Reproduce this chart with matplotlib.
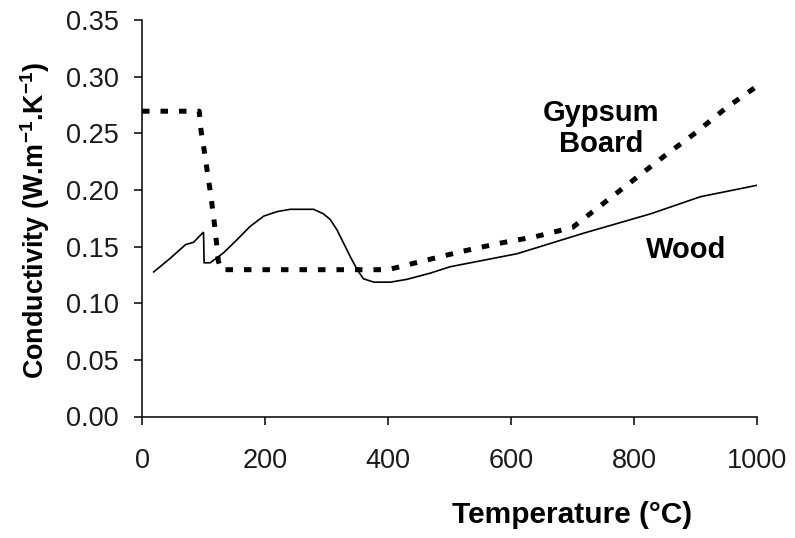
import matplotlib
matplotlib.use("Agg")
import matplotlib.pyplot as plt

# ---- data ----
gypsum_T = [0, 93, 96, 101, 107, 112, 119, 124, 128, 400, 460, 520, 580, 640, 700,
            750, 800, 850, 900, 950, 1000]
gypsum_k = [0.2695, 0.2695, 0.2524, 0.2353, 0.2131, 0.1950, 0.1648, 0.1377, 0.1296,
            0.1296, 0.1377, 0.1457, 0.1528, 0.1588, 0.1669, 0.1880, 0.2091, 0.2302,
            0.2504, 0.2725, 0.2916]

wood_T = [19, 46, 71, 84, 100, 101, 111, 133, 154, 176, 198, 220, 241, 279, 295, 306,
          317, 328, 339, 350, 360, 377, 404, 431, 469, 501, 610, 718, 827, 908, 1000]
wood_k = [0.1276, 0.1397, 0.1518, 0.1538, 0.1628, 0.1357, 0.1357, 0.1447, 0.1558,
          0.1679, 0.1769, 0.1809, 0.1829, 0.1829, 0.1789, 0.1739, 0.1648, 0.1528,
          0.1407, 0.1296, 0.1216, 0.1186, 0.1186, 0.1211, 0.1266, 0.1322, 0.1437,
          0.1618, 0.1789, 0.1940, 0.2041]

x_ticks = [0, 200, 400, 600, 800, 1000]
y_ticks = [0.00, 0.05, 0.10, 0.15, 0.20, 0.25, 0.30, 0.35]
y_ticklabels = ["0.00", "0.05", "0.10", "0.15", "0.20", "0.25", "0.30", "0.35"]

plt.rcParams['font.family'] = ['Liberation Sans', 'DejaVu Sans']
plt.rcParams['mathtext.fontset'] = 'custom'
plt.rcParams['mathtext.rm'] = 'Liberation Sans:bold'
plt.rcParams['mathtext.bf'] = 'Liberation Sans:bold'
plt.rcParams['mathtext.default'] = 'bf'

fig = plt.figure(figsize=(7.95, 5.38), dpi=100)
ax = fig.add_axes([142/795, 1 - 416.5/538, 615/795, 396.5/538])

ax.plot(wood_T, wood_k, color='black', lw=1.2, solid_joinstyle='miter')
ax.plot(gypsum_T, gypsum_k, color='black', lw=3.6, linestyle=(0, (1.5, 2.2)),
        dash_capstyle='butt')

ax.set_xlim(0, 1000)
ax.set_ylim(0, 0.35)
ax.set_xticks(x_ticks)
ax.set_yticks(y_ticks)
ax.set_yticklabels(y_ticklabels)

for s in ['top', 'right']:
    ax.spines[s].set_visible(False)
for s in ['left', 'bottom']:
    ax.spines[s].set_linewidth(1.1)
ax.tick_params(direction='out', length=6, width=1.1, labelsize=19.5,
               labelcolor='#1a1a1a')
ax.tick_params(axis='y', pad=11)
ax.tick_params(axis='x', pad=17)

ax.set_xlabel('Temperature (°C)', fontsize=21.5, fontweight='bold')
ax.xaxis.set_label_coords(0.70, -0.213)
ax.set_ylabel(r'Conductivity (W.m$^{-1}$.K$^{-1}$)', fontsize=19.4, fontweight='bold')
ax.yaxis.set_label_coords(-0.146, 0.495)

ax.text(747, 0.254, 'Gypsum\nBoard', fontsize=21, fontweight='bold',
        ha='center', va='center', linespacing=1.15)
ax.text(884, 0.147, 'Wood', fontsize=21, fontweight='bold', ha='center', va='center')

fig.savefig('out.png', dpi=100)
